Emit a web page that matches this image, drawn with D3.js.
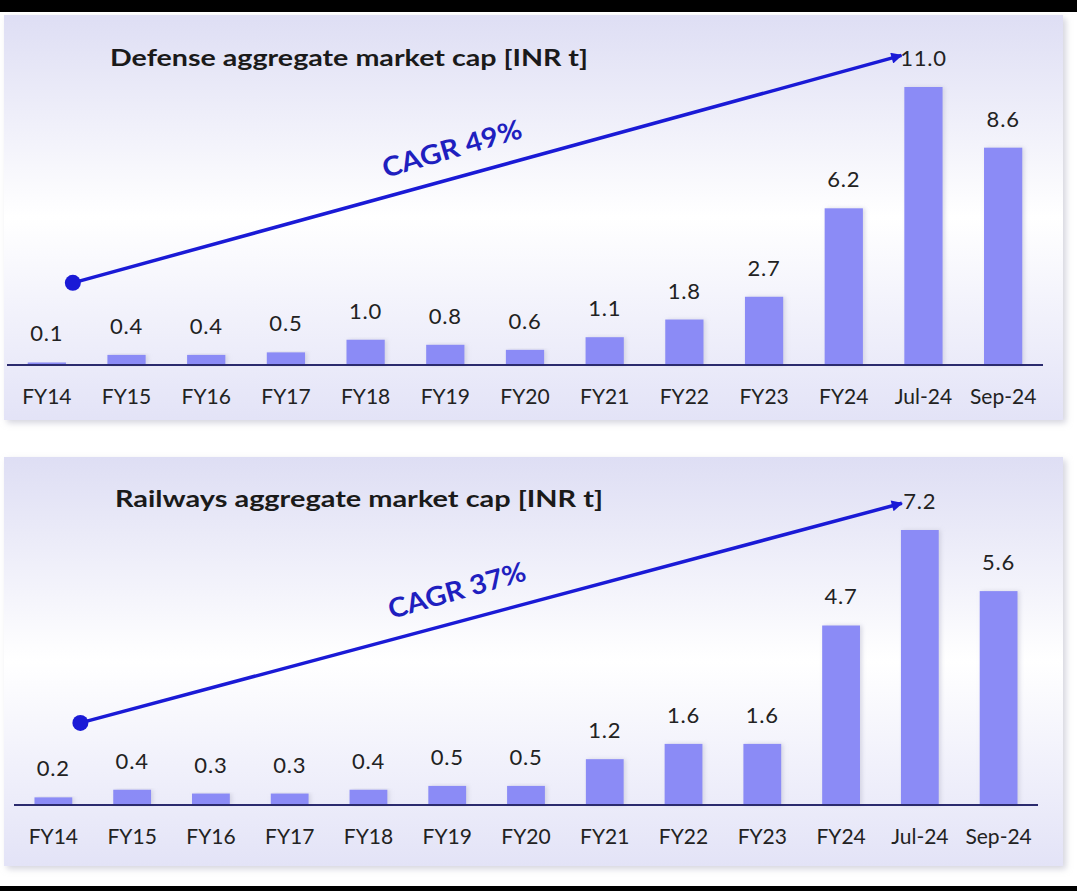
<!DOCTYPE html>
<html lang="en">
<head>
	<meta charset="UTF-8">
	<title>Defense and Railways market cap</title>
	<script src="https://cdn.jsdelivr.net/npm/d3@7"></script>
	<style>
		html, body { margin: 0; padding: 0; background: #fff; }
		text { font-family: Lato, "Open Sans", sans-serif; }
	</style>
</head>
<body>
	<div id="vis"></div>

	<script>
		var width = 1077;
		var height = 891;

		// categories shared by both charts
		var categories = ["FY14", "FY15", "FY16", "FY17", "FY18", "FY19", "FY20",
			"FY21", "FY22", "FY23", "FY24", "Jul-24", "Sep-24"];

		// aggregate market cap, INR trillion
		var defenseValues = [0.1, 0.4, 0.4, 0.5, 1.0, 0.8, 0.6, 1.1, 1.8, 2.7, 6.2, 11.0, 8.6];
		var railwaysValues = [0.2, 0.4, 0.3, 0.3, 0.4, 0.5, 0.5, 1.2, 1.6, 1.6, 4.7, 7.2, 5.6];

		var titles = ["Defense aggregate market cap [INR t]", "Railways aggregate market cap [INR t]"];
		var cagrLabels = ["CAGR 49%", "CAGR 37%"];

		var svg = d3.select("#vis").append("svg")
			.attr("width", width)
			.attr("height", height);

		var defs = svg.append("defs");

		var grad = defs.append("linearGradient")
			.attr("id", "panelGrad")
			.attr("x1", 0).attr("y1", 0).attr("x2", 0).attr("y2", 1);
		grad.append("stop").attr("offset", "0%").attr("stop-color", "#dedef4");
		grad.append("stop").attr("offset", "50%").attr("stop-color", "#ffffff");
		grad.append("stop").attr("offset", "100%").attr("stop-color", "#e3e3f7");

		var shadow = defs.append("filter").attr("id", "shadow")
			.attr("x", "-5%").attr("y", "-5%").attr("width", "110%").attr("height", "115%");
		shadow.append("feDropShadow")
			.attr("dx", 3).attr("dy", 3)
			.attr("stdDeviation", 3)
			.attr("flood-color", "#b8b8c8")
			.attr("flood-opacity", 0.6);

		var barGlow = defs.append("filter").attr("id", "barGlow")
			.attr("x", "-30%").attr("y", "-10%").attr("width", "160%").attr("height", "120%");
		barGlow.append("feDropShadow")
			.attr("dx", 2).attr("dy", 0)
			.attr("stdDeviation", 2)
			.attr("flood-color", "#c8c8d8")
			.attr("flood-opacity", 0.7);

		var marker = defs.append("marker")
			.attr("id", "arrowHead")
			.attr("viewBox", "0 0 10 10")
			.attr("refX", 9).attr("refY", 5)
			.attr("markerWidth", 4.2).attr("markerHeight", 3.2)
			.attr("orient", "auto");
		marker.append("path").attr("d", "M0,0 L10,5 L0,10 Z").attr("fill", "#1a1ad6");

		// black bands at top and bottom of the picture
		svg.append("rect").attr("x", 0).attr("y", 0).attr("width", width).attr("height", 12).attr("fill", "#000");
		svg.append("rect").attr("x", 0).attr("y", 886).attr("width", width).attr("height", height - 886).attr("fill", "#000");

		// panel layouts
		var panels = [
			{
				values: defenseValues, title: titles[0], cagr: cagrLabels[0],
				box: [4, 15, 1059, 405],
				xRange: [7, 1043], yRange: [365, 87], yMax: 11.0,
				titleX: 110, titleY: 66, titleW: 478,
				arrowFrom: [26, 3.25], arrowTo: [-22, 12.25],
				cagrPos: [0.432, 8.2], cagrW: 144
			},
			{
				values: railwaysValues, title: titles[1], cagr: cagrLabels[1],
				box: [4, 457, 1059, 409],
				xRange: [14, 1038], yRange: [805, 530], yMax: 7.2,
				titleX: 115, titleY: 507, titleW: 488,
				arrowFrom: [27, 2.15], arrowTo: [-18, 7.9],
				cagrPos: [0.435, 5.38], cagrW: 142
			}
		];

		panels.forEach(function(p) {
			var g = svg.append("g");

			g.append("rect")
				.attr("x", p.box[0]).attr("y", p.box[1])
				.attr("width", p.box[2]).attr("height", p.box[3])
				.attr("fill", "url(#panelGrad)")
				.style("filter", "url(#shadow)");

			var x = d3.scaleBand()
				.domain(categories)
				.range(p.xRange)
				.paddingInner(0.52)
				.paddingOuter(0.26);

			var y = d3.scaleLinear()
				.domain([0, p.yMax])
				.range(p.yRange);

			// bars
			g.selectAll("rect.bar")
				.data(p.values)
				.enter().append("rect")
				.attr("class", "bar")
				.attr("x", function(d, i) { return x(categories[i]); })
				.attr("y", function(d) { return y(d); })
				.attr("width", x.bandwidth())
				.attr("height", function(d) { return y(0) - y(d); })
				.attr("fill", "#8b8bf6")
				.style("filter", "url(#barGlow)");

			// value labels
			g.selectAll("text.val")
				.data(p.values)
				.enter().append("text")
				.attr("class", "val")
				.attr("x", function(d, i) { return x(categories[i]) + x.bandwidth() / 2; })
				.attr("y", function(d) { return y(d) - 21; })
				.attr("text-anchor", "middle")
				.attr("font-size", 22)
				.attr("letter-spacing", 0.8)
				.attr("fill", "#222")
				.text(function(d) { return d.toFixed(1); });

			// category axis
			var axis = g.append("g")
				.attr("transform", "translate(0," + y(0) + ")")
				.call(d3.axisBottom(x).tickSize(0).tickPadding(0));
			axis.select(".domain")
				.attr("d", "M" + p.xRange[0] + ",0H" + p.xRange[1])
				.attr("stroke", "#2b2b6e")
				.attr("stroke-width", 2);
			axis.selectAll("text")
				.attr("dy", null)
				.attr("y", 39)
				.attr("font-size", 21)
				.attr("font-family", "Lato, 'Open Sans', sans-serif")
				.attr("fill", "#222");

			// title (stretched to the width it has in the original)
			g.append("text")
				.attr("x", p.titleX).attr("y", p.titleY)
				.attr("font-size", 23)
				.attr("font-weight", "bold")
				.attr("fill", "#1a1a1a")
				.attr("textLength", p.titleW)
				.attr("lengthAdjust", "spacingAndGlyphs")
				.text(p.title);

			// CAGR arrow, positioned in data units
			var first = categories[0], peak = categories[11];
			var x1 = x(first) + x.bandwidth() / 2 + p.arrowFrom[0];
			var y1 = y(p.arrowFrom[1]);
			var x2 = x(peak) + x.bandwidth() / 2 + p.arrowTo[0];
			var y2 = y(p.arrowTo[1]);

			g.append("line")
				.attr("x1", x1).attr("y1", y1)
				.attr("x2", x2).attr("y2", y2)
				.attr("stroke", "#1a1ad6")
				.attr("stroke-width", 3.5)
				.attr("marker-end", "url(#arrowHead)");

			g.append("circle")
				.attr("cx", x1).attr("cy", y1)
				.attr("r", 8)
				.attr("fill", "#1a1ad6");

			var angle = Math.atan2(y2 - y1, x2 - x1) * 180 / Math.PI - 1;
			var cx = p.xRange[0] + (p.xRange[1] - p.xRange[0]) * p.cagrPos[0];
			var cy = y(p.cagrPos[1]);
			g.append("text")
				.attr("transform", "translate(" + cx + "," + cy + ") rotate(" + angle + ")")
				.attr("text-anchor", "middle")
				.attr("font-size", 27)
				.attr("font-weight", "bold")
				.attr("fill", "#1f1fbf")
				.attr("textLength", p.cagrW)
				.attr("lengthAdjust", "spacingAndGlyphs")
				.text(p.cagr);
		});
	</script>
</body>
</html>
